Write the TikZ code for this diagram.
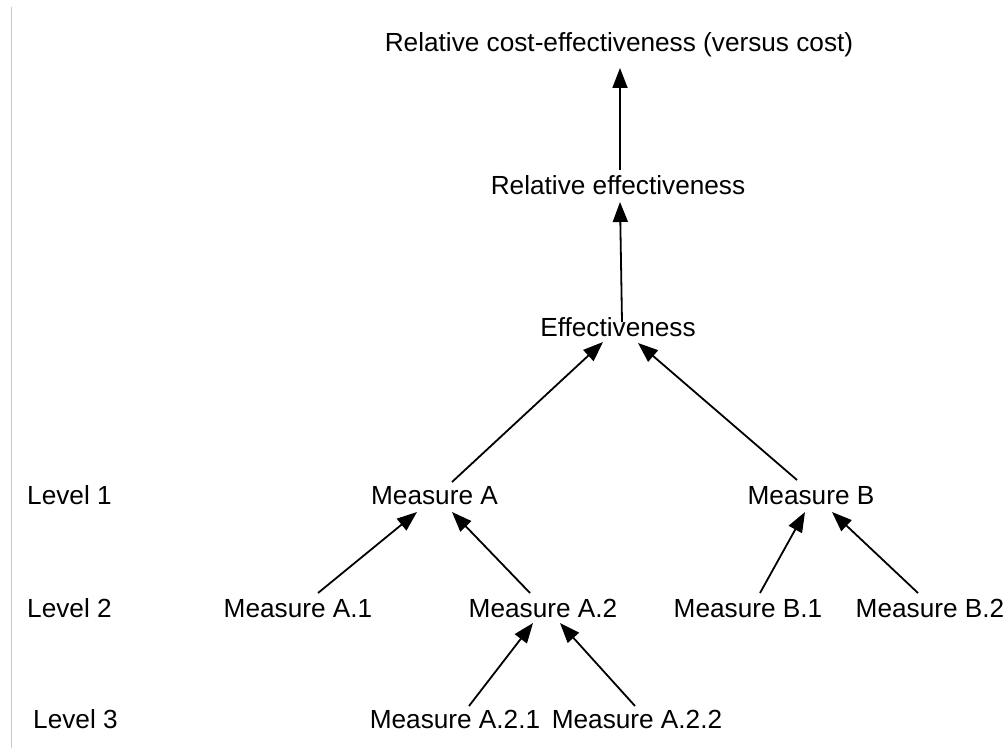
\documentclass[tikz,border=0pt]{standalone}
\usepackage{fontspec}
\setmainfont{Liberation Sans}
\usetikzlibrary{arrows.meta}
\begin{document}
\begin{tikzpicture}[x=1pt,y=1pt,
  lbl/.style={inner sep=0pt,anchor=base,font=\fontsize{26.2}{31}\selectfont},
  lvl/.style={inner sep=0pt,anchor=base west,font=\fontsize{26.2}{31}\selectfont},
  arr/.style={line width=1.8pt,-{Triangle[length=20pt,width=15pt]}}]
\useasboundingbox (0,0) rectangle (1008,748);
\draw[gray!45,line width=1pt] (11,741) -- (11,0);
% nodes (x centre, baseline)
\node[lbl] (top) at (619,696) {Relative cost-effectiveness (versus cost)};
\node[lbl] (re)  at (618,553) {Relative effectiveness};
\node[lbl] (eff) at (618,412) {Effectiveness};
\node[lbl] (ma)  at (434.5,244) {Measure A};
\node[lbl] (mb)  at (811,244) {Measure B};
\node[lbl] (a1)  at (298,131) {Measure A.1};
\node[lbl] (a2)  at (543,131) {Measure A.2};
\node[lbl] (b1)  at (748,131) {Measure B.1};
\node[lbl] (b2)  at (930,131) {Measure B.2};
\node[lbl] (a21) at (455,20) {Measure A.2.1};
\node[lbl] (a22) at (637,20) {Measure A.2.2};
\node[lvl] (l1) at (27,244) {Level 1};
\node[lvl] (l2) at (27,131) {Level 2};
\node[lvl] (l3) at (33,20) {Level 3};
% connectors
\draw[arr] ([shift={(2,25)}]re.base) -- ([shift={(1,-16)}]top.base);
\draw[arr] ([shift={(4,14)}]eff.base) -- ([shift={(2,-7)}]re.base);
\draw[arr] ([shift={(17.5,22)}]ma.base) -- ([shift={(-15,-6)}]eff.base);
\draw[arr] ([shift={(-14,24)}]mb.base) -- ([shift={(20,-7)}]eff.base);
\draw[arr] ([shift={(20,24)}]a1.base) -- ([shift={(-17.5,-8)}]ma.base);
\draw[arr] ([shift={(-13,24)}]a2.base) -- ([shift={(17.5,-8)}]ma.base);
\draw[arr] ([shift={(12,24)}]b1.base) -- ([shift={(-6,-8)}]mb.base);
\draw[arr] ([shift={(-12,24)}]b2.base) -- ([shift={(21,-8)}]mb.base);
\draw[arr] ([shift={(14,22)}]a21.base) -- ([shift={(-10,-6)}]a2.base);
\draw[arr] ([shift={(-2,22)}]a22.base) -- ([shift={(17,-6)}]a2.base);
\end{tikzpicture}
\end{document}
